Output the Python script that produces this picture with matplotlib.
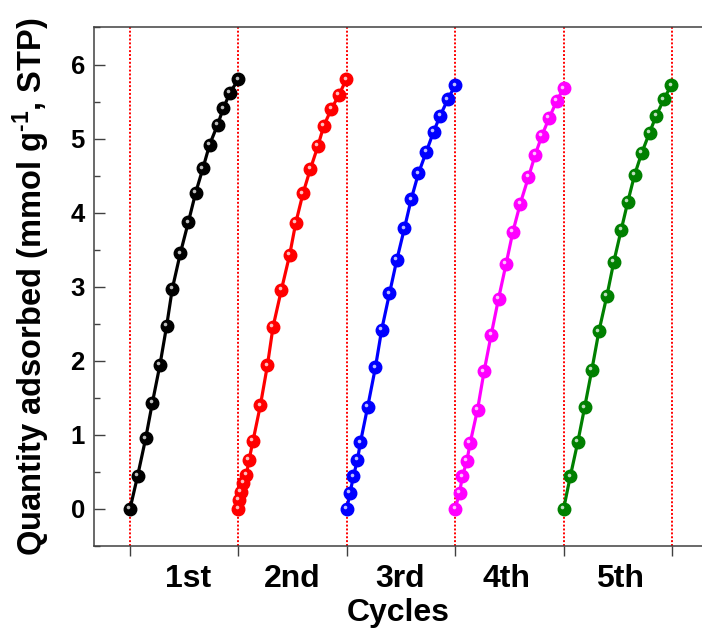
import matplotlib.pyplot as plt
from matplotlib.transforms import offset_copy

plt.rcParams['font.family'] = ['Liberation Sans', 'DejaVu Sans']
plt.rcParams['font.weight'] = 'bold'
plt.rcParams['mathtext.fontset'] = 'custom'
plt.rcParams['mathtext.bf'] = 'Liberation Sans:bold'
plt.rcParams['mathtext.rm'] = 'Liberation Sans:bold'
plt.rcParams['mathtext.default'] = 'bf'

# position inside each cycle (0..1) and quantity adsorbed
x1 = [0, 0.071, 0.145, 0.206, 0.277, 0.338, 0.390, 0.464, 0.538, 0.606, 0.673, 0.735, 0.809, 0.861, 0.923, 1.0]
y1 = [0, 0.45, 0.955, 1.43, 1.95, 2.47, 2.97, 3.45, 3.87, 4.27, 4.60, 4.92, 5.19, 5.41, 5.62, 5.80]

x2 = [0, 0.006, 0.024, 0.046, 0.074, 0.098, 0.135, 0.203, 0.268, 0.32, 0.397, 0.473, 0.529, 0.596, 0.664, 0.734, 0.787, 0.858, 0.928, 0.996]
y2 = [0, 0.12, 0.23, 0.35, 0.46, 0.66, 0.92, 1.40, 1.94, 2.46, 2.96, 3.43, 3.86, 4.26, 4.59, 4.90, 5.17, 5.40, 5.59, 5.80]

x3 = [0, 0.031, 0.061, 0.098, 0.126, 0.193, 0.264, 0.322, 0.394, 0.461, 0.532, 0.594, 0.661, 0.733, 0.800, 0.862, 0.932, 1.0]
y3 = [0, 0.22, 0.44, 0.66, 0.90, 1.38, 1.91, 2.42, 2.91, 3.36, 3.79, 4.18, 4.53, 4.82, 5.09, 5.31, 5.53, 5.72]

x4 = [0, 0.040, 0.067, 0.108, 0.138, 0.206, 0.267, 0.332, 0.400, 0.470, 0.532, 0.600, 0.676, 0.738, 0.800, 0.867, 0.938, 1.0]
y4 = [0, 0.22, 0.44, 0.65, 0.89, 1.34, 1.86, 2.35, 2.84, 3.31, 3.74, 4.12, 4.48, 4.78, 5.04, 5.28, 5.51, 5.68]

x5 = [0, 0.062, 0.132, 0.194, 0.261, 0.326, 0.400, 0.464, 0.532, 0.593, 0.655, 0.722, 0.793, 0.855, 0.925, 0.993]
y5 = [0, 0.44, 0.91, 1.37, 1.88, 2.40, 2.88, 3.34, 3.77, 4.15, 4.51, 4.81, 5.08, 5.31, 5.53, 5.72]

cycle_x = [x1, x2, x3, x4, x5]
cycle_y = [y1, y2, y3, y4, y5]
colors = ['black', '#ff0000', '#0000ff', '#ff00ff', '#008000']
cycle_labels = ['1st', '2nd', '3rd', '4th', '5th']
label_pos = [0.54, 1.5, 2.49, 3.47, 4.52]
boundaries = [0, 1, 2, 3, 4, 5]

fig = plt.figure(figsize=(7.02, 6.35), dpi=100)
ax = fig.add_axes([0.1346, 0.1402, 0.8654, 0.8165])

for b in boundaries:
    ax.axvline(b, color='red', linestyle=(0, (1, 1)), linewidth=1.4, zorder=1)

shine = offset_copy(ax.transData, fig=fig, x=-1.2, y=1.2, units='points')
for i, (xs, ys) in enumerate(zip(cycle_x, cycle_y)):
    xx = [v + i for v in xs]
    ax.plot(xx, ys, '-o', color=colors[i], linewidth=2.3, markersize=9,
            markeredgewidth=1, zorder=3)
    ax.plot(xx, ys, 'o', color='white', markersize=2.6, alpha=0.75,
            markeredgewidth=0, transform=shine, zorder=4)

ax.set_xlim(-0.3275, 5.277)
ax.set_ylim(-0.5, 6.5)

ax.set_yticks(range(0, 7))
ax.set_yticks([v + 0.5 for v in range(-1, 7)], minor=True)
ax.tick_params(axis='y', which='major', direction='in', length=8, width=1,
               labelsize=18.5, pad=7, color='#404040')
ax.tick_params(axis='y', which='minor', direction='in', length=4.5, width=1,
               color='#404040')

ax.set_xticks(boundaries, labels=[''] * len(boundaries))
ax.set_xticks(label_pos, labels=cycle_labels, minor=True)
ax.tick_params(axis='x', which='major', direction='out', length=7.5, width=1,
               color='#404040')
ax.tick_params(axis='x', which='minor', length=0, labelsize=23, pad=13)

for s in ['top', 'left', 'bottom']:
    ax.spines[s].set_linewidth(1.1)
    ax.spines[s].set_color('#404040')
ax.spines['right'].set_visible(False)

ax.set_xlabel('Cycles', fontsize=23, fontweight='bold', labelpad=3)
ax.set_ylabel('Quantity adsorbed (mmol g$^{\\text{-1}}$, STP)', fontsize=23.5,
              fontweight='bold', labelpad=13)

fig.savefig('out.png', dpi=100)
